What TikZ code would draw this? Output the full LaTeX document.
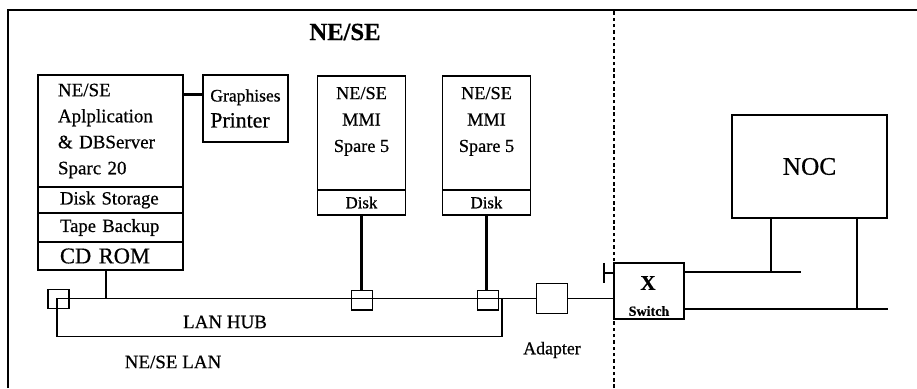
\documentclass[tikz,border=0pt]{standalone}
\usepackage{fontspec}
\setmainfont{Liberation Serif}[FakeBold=0.6]
\usetikzlibrary{positioning}

\tikzset{
  box/.style={draw, line width=0.9pt, inner sep=0pt, outer sep=0pt},
  hw/.style={box, minimum width=3.625cm, align=left, text width=2.525cm, inner xsep=0.55cm, font=\fontsize{13.3}{16}\selectfont},
  port/.style={draw, line width=0.9pt, minimum width=0.52cm, minimum height=0.48cm, inner sep=0pt},
  wire/.style={line width=1.1pt},
  fat/.style={line width=2pt},
  lbl/.style={font=\fontsize{13.5}{16}\selectfont},
}

\begin{document}
\begin{tikzpicture}
  \useasboundingbox[fill=white] (0,0) rectangle (22.925,9.7);

  % frame and domain border
  \draw[line width=1.2pt] (0.2,0) -- (0.2,9.45) -- (22.925,9.45);
  \draw[line width=0.8pt, dash pattern=on 2.5pt off 2pt] (15.35,0) -- (15.35,9.45);
  \node[font=\bfseries\fontsize{17.5}{20}\selectfont] (title) at (8.625,8.9) {NE/SE};

  % server with its drives
  \node[box, minimum width=3.625cm, minimum height=2.8cm, align=left, text width=2.625cm, inner xsep=0.5cm, font=\fontsize{13.5}{18.5}\selectfont] (srv) at (2.7625,6.425) {NE/SE\\Aplplication\\\& DBServer\\Sparc 20};
  \node[hw, minimum height=0.65cm, below=0pt of srv] (dsk) {Disk Storage};
  \node[hw, minimum height=0.725cm, below=0pt of dsk] (tape) {Tape Backup};
  \node[hw, minimum height=0.7cm, below=0pt of tape, font=\fontsize{16}{18}\selectfont] (cdrom) {CD ROM};

  % printer
  \node[box, minimum width=2.125cm, minimum height=1.675cm, align=left, font=\fontsize{12.5}{18.5}\selectfont] (prn) at (6.1375,6.9875) {Graphises\\\fontsize{15.5}{18.5}\selectfont Printer};

  % MMI workstations
  \node[box, minimum width=2.2cm, minimum height=2.85cm] (mmiA) at (9.0375,6.375) {};
  \node[box, minimum width=2.2cm, minimum height=0.625cm, below=0pt of mmiA, font=\fontsize{12}{14}\selectfont] (diskA) {Disk};
  \node[align=center, font=\fontsize{13}{18.8}\selectfont] (mmiAtxt) at ([yshift=0.29cm]mmiA.center) {NE/SE\\MMI\\Spare 5};

  \node[box, minimum width=2.2cm, minimum height=2.85cm] (mmiB) at (12.1625,6.375) {};
  \node[box, minimum width=2.2cm, minimum height=0.625cm, below=0pt of mmiB, font=\fontsize{12}{14}\selectfont] (diskB) {Disk};
  \node[align=center, font=\fontsize{13}{18.8}\selectfont] (mmiBtxt) at ([yshift=0.29cm]mmiB.center) {NE/SE\\MMI\\Spare 5};

  % LAN hub and ports
  \node[box, minimum width=11.125cm, minimum height=0.95cm, anchor=north west] (hub) at (1.425,2.24) {};
  \node[lbl] (hubtxt) at (5.625,1.65) {LAN HUB};
  \node[lbl] (lan) at (4.325,0.65) {NE/SE LAN};
  \node[port] (p0) at (1.4625,2.22) {};
  \node[port] (p1) at (9.05,2.19) {};
  \node[port] (p2) at (12.2,2.19) {};

  % adapter, switch, NOC
  \node[box, minimum size=0.76cm] (adp) at (13.8,2.24) {};
  \node[font=\fontsize{12.7}{15}\selectfont] (adptxt) at (13.8,0.95) {Adapter};
  \node[box, line width=1.1pt, minimum width=1.75cm, minimum height=1.4cm] (sw) at (16.225,2.425) {};
  \node[font=\bfseries\fontsize{15}{17}\selectfont] (swx) at (16.2,2.625) {X};
  \node[font=\bfseries\fontsize{10}{12}\selectfont] (swtxt) at (16.225,1.925) {Switch};
  \node[box, line width=1.1pt, minimum width=3.875cm, minimum height=2.575cm, font=\fontsize{18}{20}\selectfont] (noc) at (20.2375,5.5375) {NOC};

  % links
  \coordinate (prnin) at ([yshift=0.36cm]prn.west);
  \draw[fat] (prnin) -- (prnin -| srv.east);
  \draw[wire] ([xshift=-0.11cm]cdrom.south) -- ([xshift=-0.11cm]cdrom.south |- hub.north);
  \draw[fat] (diskA.south) -- (diskA.south |- p1.north);
  \draw[fat] (diskB.south) -- (diskB.south |- p2.north);
  \draw[wire] (hub.north west) -- (adp.west);
  \draw[wire] (adp.east) -- (adp.east -| sw.west);

  \coordinate (termin) at ([yshift=0.45cm]sw.west);
  \draw[fat] (termin) -- ++(-0.25,0) coordinate (term);
  \draw[fat] ([yshift=0.25cm]term) -- ([yshift=-0.25cm]term);

  \coordinate (outA) at (20.025,2.9);
  \coordinate (outB) at (22.2,1.975);
  \draw[fat] (sw.east |- outA) -- (outA);
  \draw[fat] (sw.east |- outB) -- (outB);
  \draw[wire] ([xshift=-0.96cm]noc.south) -- ([xshift=-0.96cm]noc.south |- outA);
  \draw[wire] ([xshift=1.19cm]noc.south) -- ([xshift=1.19cm]noc.south |- outB);
\end{tikzpicture}
\end{document}
